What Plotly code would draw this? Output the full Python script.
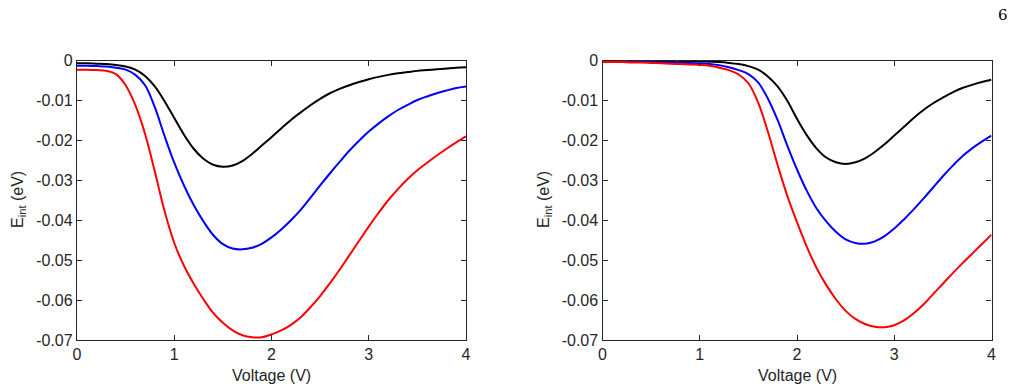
import plotly.graph_objects as go

# ---- data (voltage grid, V) ----
voltage = [0.0, 0.1, 0.2, 0.3, 0.4, 0.5, 0.6, 0.7, 0.8, 0.9,
           1.0, 1.1, 1.2, 1.3, 1.4, 1.5, 1.6, 1.7, 1.8, 1.9,
           2.0, 2.1, 2.2, 2.3, 2.4, 2.5, 2.6, 2.7, 2.8, 2.9,
           3.0, 3.1, 3.2, 3.3, 3.4, 3.5, 3.6, 3.7, 3.8, 3.9, 4.0]

# Left panel, E_int (eV)
left_black = [-0.0007, -0.0007, -0.0008, -0.0009, -0.0011, -0.0015, -0.0023, -0.0039, -0.0065, -0.0102,
              -0.0144, -0.0186, -0.0221, -0.0246, -0.0261, -0.0266, -0.0263, -0.0252, -0.0234, -0.0213,
              -0.0192, -0.0170, -0.0149, -0.0130, -0.0112, -0.0096, -0.0082, -0.0071, -0.0062, -0.0054,
              -0.0047, -0.0041, -0.0036, -0.0032, -0.0029, -0.0026, -0.0024, -0.0022, -0.0020, -0.0018, -0.0017]
left_blue = [-0.0013, -0.0013, -0.0014, -0.0015, -0.0018, -0.0023, -0.0036, -0.0062, -0.0117, -0.0189,
             -0.0256, -0.0313, -0.0362, -0.0403, -0.0437, -0.0460, -0.0471, -0.0473, -0.0469, -0.0459,
             -0.0443, -0.0423, -0.0400, -0.0374, -0.0344, -0.0313, -0.0283, -0.0254, -0.0226, -0.0201,
             -0.0178, -0.0158, -0.0140, -0.0124, -0.0111, -0.0099, -0.0090, -0.0082, -0.0075, -0.0069, -0.0065]
left_red = [-0.0023, -0.0023, -0.0024, -0.0026, -0.0034, -0.0062, -0.0112, -0.0184, -0.0278, -0.0377,
            -0.0457, -0.0514, -0.0559, -0.0598, -0.0632, -0.0657, -0.0676, -0.0688, -0.0693, -0.0693,
            -0.0686, -0.0676, -0.0662, -0.0643, -0.0618, -0.0590, -0.0558, -0.0524, -0.0488, -0.0452,
            -0.0416, -0.0382, -0.0350, -0.0322, -0.0297, -0.0275, -0.0256, -0.0238, -0.0221, -0.0205, -0.0190]

# Right panel, E_int (eV)
right_black = [-0.0001, -0.0001, -0.0001, -0.0001, -0.0001, -0.0001, -0.0001, -0.0001, -0.0001, -0.0002,
               -0.0002, -0.0003, -0.0004, -0.0006, -0.0009, -0.0014, -0.0023, -0.0040, -0.0065, -0.0101,
               -0.0146, -0.0187, -0.0220, -0.0243, -0.0255, -0.0259, -0.0255, -0.0245, -0.0229, -0.0210,
               -0.0188, -0.0166, -0.0144, -0.0124, -0.0107, -0.0093, -0.0080, -0.0069, -0.0061, -0.0054, -0.0048]
right_blue = [-0.0003, -0.0003, -0.0003, -0.0003, -0.0004, -0.0004, -0.0005, -0.0005, -0.0006, -0.0006,
              -0.0007, -0.0009, -0.0012, -0.0017, -0.0024, -0.0034, -0.0055, -0.0095, -0.0149, -0.0213,
              -0.0273, -0.0326, -0.0370, -0.0403, -0.0429, -0.0448, -0.0457, -0.0459, -0.0453, -0.0440,
              -0.0421, -0.0398, -0.0373, -0.0346, -0.0318, -0.0290, -0.0264, -0.0240, -0.0220, -0.0203, -0.0188]
right_red = [-0.0004, -0.0004, -0.0004, -0.0005, -0.0005, -0.0006, -0.0007, -0.0008, -0.0009, -0.0010,
             -0.0011, -0.0013, -0.0018, -0.0024, -0.0035, -0.0057, -0.0105, -0.0178, -0.0261, -0.0339,
             -0.0405, -0.0466, -0.0519, -0.0562, -0.0598, -0.0627, -0.0647, -0.0660, -0.0667, -0.0668,
             -0.0663, -0.0651, -0.0633, -0.0611, -0.0585, -0.0559, -0.0533, -0.0508, -0.0484, -0.0460, -0.0436]

x_ticks = [0, 1, 2, 3, 4]
x_tick_labels = ["0", "1", "2", "3", "4"]
y_ticks = [0, -0.01, -0.02, -0.03, -0.04, -0.05, -0.06, -0.07]
y_tick_labels = ["0", "-0.01", "-0.02", "-0.03", "-0.04", "-0.05", "-0.06", "-0.07"]

x_title = "Voltage (V)"
y_title = "E<sub>int</sub> (eV)"
page_number = "6"

# ---- figure ----
W, H = 1016, 389
AX = "#262626"
FONT = "Liberation Sans, Arial, Helvetica, sans-serif"
FS = 16

fig = go.Figure()

def add(e, color, xa, ya):
    fig.add_trace(go.Scatter(x=voltage, y=e, mode="lines", xaxis=xa, yaxis=ya,
                             line=dict(color=color, width=2, shape="spline", smoothing=1.0),
                             showlegend=False, hoverinfo="skip"))

add(left_black, "#000000", "x", "y")
add(left_blue, "#0000ff", "x", "y")
add(left_red, "#ff0000", "x", "y")
add(right_black, "#000000", "x2", "y2")
add(right_blue, "#0000ff", "x2", "y2")
add(right_red, "#ff0000", "x2", "y2")

left_dom = [77 / W, 466 / W]
right_dom = [602.5 / W, 991.5 / W]
y_dom = [1 - 340 / H, 1 - 60.5 / H]

common_x = dict(range=[0, 4], tickvals=x_ticks, ticktext=x_tick_labels,
                ticks="inside", ticklen=5, tickwidth=1, tickcolor=AX,
                showline=True, linecolor=AX, linewidth=1.3, mirror="ticks",
                showgrid=False, zeroline=False, automargin=False,
                tickfont=dict(family=FONT, size=FS, color=AX))
common_y = dict(range=[-0.07, 0], tickvals=y_ticks, ticktext=y_tick_labels,
                ticks="inside", ticklen=5, tickwidth=1, tickcolor=AX,
                showline=True, linecolor=AX, linewidth=1.3, mirror="ticks",
                showgrid=False, zeroline=False, automargin=False,
                tickfont=dict(family=FONT, size=FS, color=AX))

fig.update_layout(
    width=W, height=H,
    margin=dict(l=0, r=0, t=0, b=0),
    paper_bgcolor="white", plot_bgcolor="white",
    xaxis=dict(domain=left_dom, anchor="y", **common_x),
    yaxis=dict(domain=y_dom, anchor="x", **common_y),
    xaxis2=dict(domain=right_dom, anchor="y2", **common_x),
    yaxis2=dict(domain=y_dom, anchor="x2", **common_y),
)

title_font = dict(family=FONT, size=FS, color=AX)
for cx, cy_x in [((77 + 466) / 2, 18), ((602.5 + 991.5) / 2, 544)]:
    fig.add_annotation(text=x_title, x=cx / W, y=1 - 375 / H, xref="paper", yref="paper",
                       showarrow=False, font=title_font, xanchor="center", yanchor="middle")
    fig.add_annotation(text=y_title, x=cy_x / W, y=1 - 200 / H, xref="paper", yref="paper",
                       showarrow=False, font=title_font, textangle=-90,
                       xanchor="center", yanchor="middle")

fig.add_annotation(text=page_number, x=1003 / W, y=1 - 15 / H, xref="paper", yref="paper",
                   showarrow=False, font=dict(family="DejaVu Serif, serif", size=15, color="#000000"),
                   xanchor="center", yanchor="middle")

fig.write_html("out.html")
